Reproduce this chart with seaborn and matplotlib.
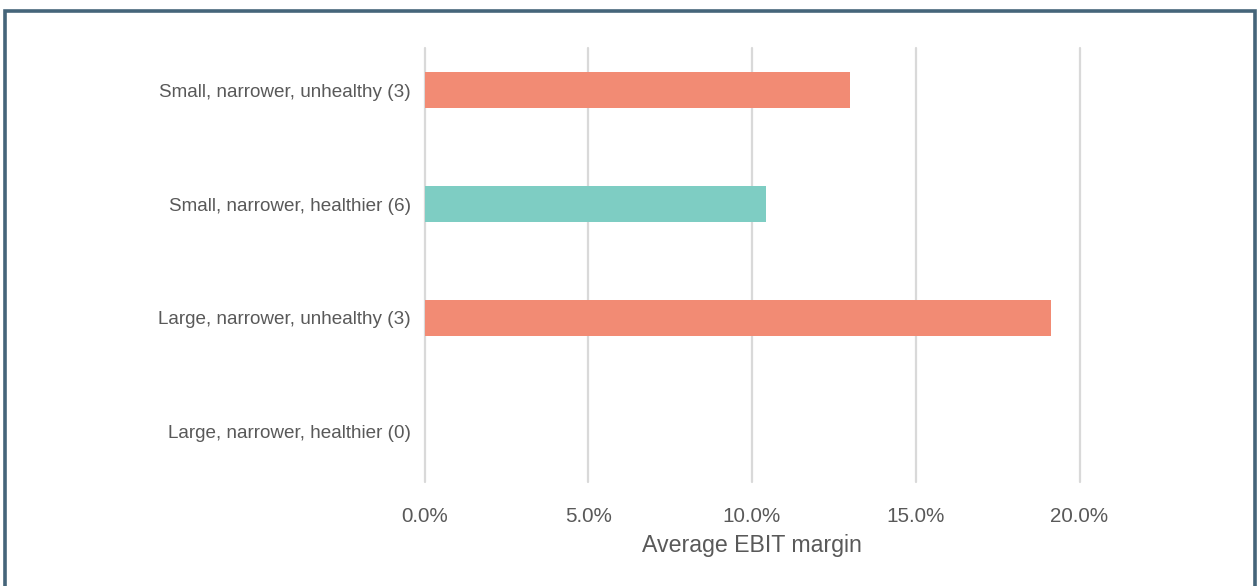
import matplotlib
matplotlib.use('Agg')
import matplotlib.pyplot as plt
import matplotlib.patches as mpatches
from matplotlib.ticker import PercentFormatter
import seaborn as sns
import pandas as pd

# data
categories = [
    "Small, narrower, unhealthy (3)",
    "Small, narrower, healthier (6)",
    "Large, narrower, unhealthy (3)",
    "Large, narrower, healthier (0)",
]
ebit_margin = [0.130, 0.1043, 0.1912, 0.0]
health = ["unhealthy", "healthier", "unhealthy", "healthier"]
colors = {"unhealthy": "#F28B74", "healthier": "#7ECDC3"}

df = pd.DataFrame({"category": categories, "margin": ebit_margin, "health": health})

sns.set_style("white")
plt.rcParams['font.family'] = ['Liberation Sans', 'DejaVu Sans']

W, H = 1258, 586
fig = plt.figure(figsize=(W / 100, H / 100), dpi=100)
ax = fig.add_axes([424.5 / W, 1 - 482 / H, 655 / W, 434 / H])

sns.barplot(data=df, x="margin", y="category", hue="health", palette=colors,
            order=categories, dodge=False, width=0.32, legend=False, ax=ax,
            saturation=1, linewidth=0)

ax.set_xlim(0, 0.20)
ax.set_ylim(3.44, -0.37)
ax.set_xticks([0, 0.05, 0.10, 0.15, 0.20])
ax.xaxis.set_major_formatter(PercentFormatter(1.0, decimals=1))
ax.grid(axis='x', color='#D9D9D9', linewidth=1.6)
ax.set_axisbelow(True)
for gl in ax.xaxis.get_gridlines():
    gl.set_clip_on(False)
for s in ax.spines.values():
    s.set_visible(False)

ax.tick_params(axis='x', length=0, pad=18, labelsize=14.9, labelcolor='#595959')
ax.tick_params(axis='y', length=0, pad=10, labelsize=13.6, labelcolor='#595959')
ax.set_ylabel("")
ax.set_xlabel("Average EBIT margin", fontsize=16.7, color='#595959', labelpad=6)

# frame around the figure (open at the bottom)
fig.add_artist(mpatches.Rectangle((4.5 / W, -0.05), 1250.5 / W, 1.05 - 11.5 / H,
                                  transform=fig.transFigure, fill=False,
                                  edgecolor='#45657A', linewidth=2.6))

fig.savefig("out.png", dpi=100)
